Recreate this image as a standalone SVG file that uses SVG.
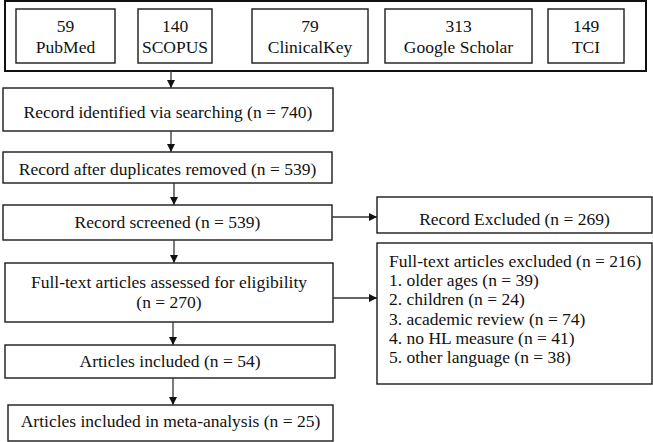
<svg xmlns="http://www.w3.org/2000/svg" width="653" height="442" viewBox="0 0 653 442">
<defs>
<marker id="ah" viewBox="0 0 10 10" refX="10" refY="5" markerWidth="8" markerHeight="8" markerUnits="userSpaceOnUse" orient="auto">
<path d="M0,0 L10,5 L0,10 z" fill="#111"/>
</marker>
<style>
.box{fill:#fff;stroke:#1a1a1a;stroke-width:1.4}
.outer{fill:#fff;stroke:#111;stroke-width:2}
text{font-family:'Liberation Serif','Times New Roman',serif;font-size:17.5px;fill:#111}
.c{text-anchor:middle}
.ln{stroke:#333;stroke-width:1.3;fill:none;marker-end:url(#ah)}
</style>
</defs>
<rect width="653" height="442" fill="#fff"/>
<g id="sources">
<rect class="outer" x="5" y="1" width="641" height="70"/>
<g id="pubmed"><rect class="box" x="16" y="9" width="99" height="54"/><text class="c" x="65.5" y="32">59</text><text class="c" x="65.5" y="53">PubMed</text></g>
<g id="scopus"><rect class="box" x="138" y="9" width="74" height="54"/><text class="c" x="175" y="32">140</text><text class="c" x="175" y="53">SCOPUS</text></g>
<g id="clinicalkey"><rect class="box" x="252" y="9" width="116" height="54"/><text class="c" x="310" y="32">79</text><text class="c" x="310" y="53">ClinicalKey</text></g>
<g id="scholar"><rect class="box" x="385" y="9" width="147" height="54"/><text class="c" x="458.5" y="32">313</text><text class="c" x="458.5" y="53">Google Scholar</text></g>
<g id="tci"><rect class="box" x="548" y="9" width="76" height="54"/><text class="c" x="586" y="32">149</text><text class="c" x="586" y="53">TCI</text></g>
</g>
<g id="identified"><rect class="box" x="3" y="88" width="330" height="43"/><text class="c" x="168" y="118">Record identified via searching (n = 740)</text></g>
<g id="dedup"><rect class="box" x="3" y="152" width="329" height="31"/><text class="c" x="167.5" y="175">Record after duplicates removed (n = 539)</text></g>
<g id="screened"><rect class="box" x="3" y="205" width="329" height="35"/><text class="c" x="167.5" y="228">Record screened (n = 539)</text></g>
<g id="fulltext"><rect class="box" x="5" y="263" width="328" height="59"/><text class="c" x="169" y="288">Full-text articles assessed for eligibility</text><text class="c" x="169" y="308">(n = 270)</text></g>
<g id="included"><rect class="box" x="5" y="345" width="330" height="33"/><text class="c" x="170" y="367">Articles included (n = 54)</text></g>
<g id="meta"><rect class="box" x="8" y="405" width="325" height="36"/><text class="c" x="170.5" y="427">Articles included in meta-analysis (n = 25)</text></g>
<g id="excluded"><rect class="box" x="377" y="197" width="275" height="36"/><text class="c" x="514.5" y="225">Record Excluded (n = 269)</text></g>
<g id="ftexcluded"><rect class="box" x="377" y="243" width="275" height="141"/>
<text x="389" y="267">Full-text articles excluded (n = 216)</text>
<text x="389" y="286.2">1. older ages (n = 39)</text>
<text x="389" y="305.4">2. children (n = 24)</text>
<text x="389" y="324.6">3. academic review (n = 74)</text>
<text x="389" y="343.8">4. no HL measure (n = 41)</text>
<text x="389" y="363">5. other language (n = 38)</text>
</g>
<g id="connectors">
<line class="ln" x1="171" y1="71" x2="171" y2="88"/>
<line class="ln" x1="171" y1="131" x2="171" y2="152"/>
<line class="ln" x1="174" y1="183" x2="174" y2="205"/>
<line class="ln" x1="174" y1="240" x2="174" y2="263"/>
<line class="ln" x1="173" y1="322" x2="173" y2="345"/>
<line class="ln" x1="173" y1="378" x2="173" y2="405"/>
<line class="ln" x1="332" y1="217" x2="377" y2="217"/>
<line class="ln" x1="333" y1="298" x2="377" y2="298"/>
</g>
</svg>
